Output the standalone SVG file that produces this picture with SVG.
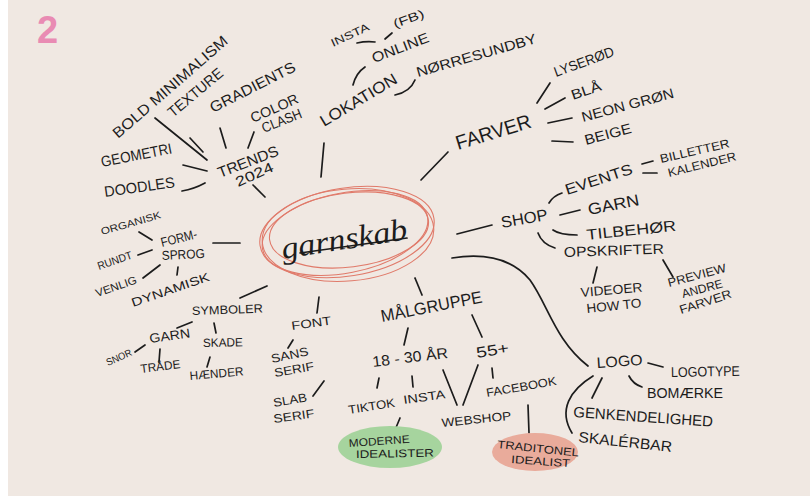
<svg xmlns="http://www.w3.org/2000/svg" width="810" height="496" viewBox="0 0 810 496">
<defs>
<style>
.t{font-family:"Liberation Sans","DejaVu Sans",sans-serif;fill:#1c1c1c;}
.c{fill:none;stroke:#1c1c1c;stroke-width:1.7;stroke-linecap:round;}
.r{fill:none;stroke:#e07a6a;stroke-width:1.1;}
</style>
</defs>
<rect x="0" y="0" width="810" height="496" fill="#ffffff"/>
<rect x="8" y="0" width="802" height="496" fill="#f0e8e2"/>
<text x="37" y="43" font-family="Liberation Sans, sans-serif" font-weight="bold" font-size="38" fill="#e98bb3">2</text>

<g id="connectors">
<path class="c" d="M155,118 L207,160"/>
<path class="c" d="M190,138 L203,152"/>
<path class="c" d="M220,128 L226,148"/>
<path class="c" d="M254,132 L248,148"/>
<path class="c" d="M183,165 L207,171"/>
<path class="c" d="M182,191 Q194,189 205,183"/>
<path class="c" d="M253,185 L265,197"/>
<path class="c" d="M357,43 Q366,41 375,42"/>
<path class="c" d="M385,39 L392,33"/>
<path class="c" d="M353,85 Q356,73 365,67"/>
<path class="c" d="M395,95 Q410,92 415,80"/>
<path class="c" d="M324,143 L321,177"/>
<path class="c" d="M448,152 L421,180"/>
<path class="c" d="M537,103 L550,83"/>
<path class="c" d="M545,109 L565,98"/>
<path class="c" d="M548,123 L572,118"/>
<path class="c" d="M552,141 L573,142"/>
<path class="c" d="M457,234 L492,225"/>
<path class="c" d="M549,203 Q553,196 562,193"/>
<path class="c" d="M560,215 L580,210"/>
<path class="c" d="M553,230 Q560,235 577,235"/>
<path class="c" d="M538,233 Q542,244 555,248"/>
<path class="c" d="M642,164 L653,161"/>
<path class="c" d="M643,173 L657,173"/>
<path class="c" d="M597,267 L593,283"/>
<path class="c" d="M663,260 L673,277"/>
<path class="c" d="M452,258 C490,252 515,262 530,280 C548,305 555,340 588,366"/>
<path class="c" d="M648,363 L663,367"/>
<path class="c" d="M629,376 Q633,384 642,387"/>
<path class="c" d="M602,378 L592,398"/>
<path class="c" d="M593,376 C570,390 558,410 572,433"/>
<path class="c" d="M213,243 L240,243"/>
<path class="c" d="M139,232 L152,240"/>
<path class="c" d="M138,255 L152,250"/>
<path class="c" d="M143,278 L160,265"/>
<path class="c" d="M178,267 L177,275"/>
<path class="c" d="M240,298 L267,286"/>
<path class="c" d="M177,328 L192,322"/>
<path class="c" d="M214,323 L216,333"/>
<path class="c" d="M135,352 L145,345"/>
<path class="c" d="M160,349 L159,362"/>
<path class="c" d="M210,357 L207,367"/>
<path class="c" d="M319,297 L317,313"/>
<path class="c" d="M293,340 L288,348"/>
<path class="c" d="M324,381 L313,396"/>
<path class="c" d="M415,278 L422,295"/>
<path class="c" d="M408,328 L404,345"/>
<path class="c" d="M472,315 L482,337"/>
<path class="c" d="M379,378 L377,388"/>
<path class="c" d="M412,376 L413,387"/>
<path class="c" d="M443,370 L457,405"/>
<path class="c" d="M478,365 L463,405"/>
<path class="c" d="M492,368 L493,378"/>
<path class="c" d="M400,418 L395,430"/>
<path class="c" d="M528,405 L529,433"/>
</g>

<g id="center">
<ellipse class="r" cx="347" cy="232" rx="88" ry="44" transform="rotate(-9 347 232)"/>
<ellipse class="r" cx="345" cy="233" rx="84" ry="40" transform="rotate(-11 345 233)"/>
<ellipse class="r" cx="349" cy="230" rx="80" ry="37" transform="rotate(-7 349 230)"/>
<ellipse class="r" cx="348" cy="235" rx="86" ry="46" transform="rotate(-5 348 235)"/>
<text transform="translate(283,259) rotate(-9)" font-family="Liberation Serif, serif" font-style="italic" font-size="31" fill="#1c1c1c" textLength="127" lengthAdjust="spacingAndGlyphs">garnskab</text>
<path class="c" d="M300,253 L407,238" stroke-width="1.4"/>
</g>

<g id="trends">
<text class="t" font-size="15" transform="translate(118,139) rotate(-41)" textLength="147" lengthAdjust="spacingAndGlyphs">BOLD MINIMALISM</text>
<text class="t" font-size="15" transform="translate(173,118) rotate(-40)" textLength="67" lengthAdjust="spacingAndGlyphs">TEXTURE</text>
<text class="t" font-size="15" transform="translate(213,113) rotate(-27)" textLength="94" lengthAdjust="spacingAndGlyphs">GRADIENTS</text>
<text class="t" font-size="14" transform="translate(253,123) rotate(-24)" textLength="51" lengthAdjust="spacingAndGlyphs">COLOR</text>
<text class="t" font-size="14" transform="translate(264,133) rotate(-22)" textLength="42" lengthAdjust="spacingAndGlyphs">CLASH</text>
<text class="t" font-size="15" transform="translate(102,167) rotate(-11)" textLength="72" lengthAdjust="spacingAndGlyphs">GEOMETRI</text>
<text class="t" font-size="15" transform="translate(105,197) rotate(-8)" textLength="71" lengthAdjust="spacingAndGlyphs">DOODLES</text>
<text class="t" font-size="15" transform="translate(220,178) rotate(-21)" textLength="64" lengthAdjust="spacingAndGlyphs">TRENDS</text>
<text class="t" font-size="14" transform="translate(238,187) rotate(-24)" textLength="40" lengthAdjust="spacingAndGlyphs">2024</text>
</g>

<g id="lokation">
<text class="t" font-size="11" transform="translate(333,47) rotate(-25)" textLength="41" lengthAdjust="spacingAndGlyphs">INSTA</text>
<text class="t" font-size="12" transform="translate(395,28) rotate(-20)" textLength="32" lengthAdjust="spacingAndGlyphs">(FB)</text>
<text class="t" font-size="14" transform="translate(374,63) rotate(-21)" textLength="60" lengthAdjust="spacingAndGlyphs">ONLINE</text>
<text class="t" font-size="16" transform="translate(324,127) rotate(-31)" textLength="87" lengthAdjust="spacingAndGlyphs">LOKATION</text>
<text class="t" font-size="14" transform="translate(418,77) rotate(-16)" textLength="124" lengthAdjust="spacingAndGlyphs">NØRRESUNDBY</text>
</g>

<g id="farver">
<text class="t" font-size="20" transform="translate(458,150) rotate(-17)" textLength="78" lengthAdjust="spacingAndGlyphs">FARVER</text>
<text class="t" font-size="14" transform="translate(556,77) rotate(-20)" textLength="63" lengthAdjust="spacingAndGlyphs">LYSERØD</text>
<text class="t" font-size="14" transform="translate(573,100) rotate(-19)" textLength="31" lengthAdjust="spacingAndGlyphs">BLÅ</text>
<text class="t" font-size="14" transform="translate(583,122) rotate(-15)" textLength="95" lengthAdjust="spacingAndGlyphs">NEON GRØN</text>
<text class="t" font-size="14" transform="translate(586,145) rotate(-15)" textLength="48" lengthAdjust="spacingAndGlyphs">BEIGE</text>
</g>

<g id="shop">
<text class="t" font-size="16" transform="translate(502,228) rotate(-10)" textLength="47" lengthAdjust="spacingAndGlyphs">SHOP</text>
<text class="t" font-size="15" transform="translate(567,195) rotate(-18)" textLength="70" lengthAdjust="spacingAndGlyphs">EVENTS</text>
<text class="t" font-size="12" transform="translate(661,163) rotate(-13)" textLength="71" lengthAdjust="spacingAndGlyphs">BILLETTER</text>
<text class="t" font-size="12" transform="translate(669,177) rotate(-14)" textLength="70" lengthAdjust="spacingAndGlyphs">KALENDER</text>
<text class="t" font-size="16" transform="translate(589,215) rotate(-11)" textLength="52" lengthAdjust="spacingAndGlyphs">GARN</text>
<text class="t" font-size="15" transform="translate(587,240) rotate(-6)" textLength="90" lengthAdjust="spacingAndGlyphs">TILBEHØR</text>
<text class="t" font-size="14" transform="translate(564,257) rotate(-2)" textLength="100" lengthAdjust="spacingAndGlyphs">OPSKRIFTER</text>
<text class="t" font-size="13" transform="translate(581,297) rotate(-5)" textLength="62" lengthAdjust="spacingAndGlyphs">VIDEOER</text>
<text class="t" font-size="13" transform="translate(587,313) rotate(-6)" textLength="55" lengthAdjust="spacingAndGlyphs">HOW TO</text>
<text class="t" font-size="12" transform="translate(669,287) rotate(-15)" textLength="60" lengthAdjust="spacingAndGlyphs">PREVIEW</text>
<text class="t" font-size="12" transform="translate(683,298) rotate(-15)" textLength="42" lengthAdjust="spacingAndGlyphs">ANDRE</text>
<text class="t" font-size="12" transform="translate(681,314) rotate(-18)" textLength="54" lengthAdjust="spacingAndGlyphs">FARVER</text>
</g>

<g id="logo">
<text class="t" font-size="15" transform="translate(597,368) rotate(-4)" textLength="46" lengthAdjust="spacingAndGlyphs">LOGO</text>
<text class="t" font-size="14" transform="translate(671,377) rotate(-1)" textLength="69" lengthAdjust="spacingAndGlyphs">LOGOTYPE</text>
<text class="t" font-size="14" transform="translate(647,398)" textLength="76" lengthAdjust="spacingAndGlyphs">BOMÆRKE</text>
<text class="t" font-size="15" transform="translate(573,417) rotate(4)" textLength="140" lengthAdjust="spacingAndGlyphs">GENKENDELIGHED</text>
<text class="t" font-size="15" transform="translate(578,442) rotate(6)" textLength="94" lengthAdjust="spacingAndGlyphs">SKALÉRBAR</text>
</g>

<g id="formsprog">
<text class="t" font-size="10" transform="translate(102,235) rotate(-16)" textLength="62" lengthAdjust="spacingAndGlyphs">ORGANISK</text>
<text class="t" font-size="13" transform="translate(162,247) rotate(-14)" textLength="37" lengthAdjust="spacingAndGlyphs">FORM-</text>
<text class="t" font-size="13" transform="translate(162,260) rotate(-3)" textLength="43" lengthAdjust="spacingAndGlyphs">SPROG</text>
<text class="t" font-size="11" transform="translate(99,270) rotate(-19)" textLength="36" lengthAdjust="spacingAndGlyphs">RUNDT</text>
<text class="t" font-size="11" transform="translate(97,297) rotate(-19)" textLength="43" lengthAdjust="spacingAndGlyphs">VENLIG</text>
<text class="t" font-size="12" transform="translate(133,307) rotate(-19)" textLength="82" lengthAdjust="spacingAndGlyphs">DYNAMISK</text>
</g>

<g id="symboler">
<text class="t" font-size="12" transform="translate(192,315) rotate(-2)" textLength="71" lengthAdjust="spacingAndGlyphs">SYMBOLER</text>
<text class="t" font-size="13" transform="translate(150,343) rotate(-8)" textLength="41" lengthAdjust="spacingAndGlyphs">GARN</text>
<text class="t" font-size="10" transform="translate(108,366) rotate(-24)" textLength="27" lengthAdjust="spacingAndGlyphs">SNOR</text>
<text class="t" font-size="12" transform="translate(141,373) rotate(-7)" textLength="40" lengthAdjust="spacingAndGlyphs">TRÅDE</text>
<text class="t" font-size="12" transform="translate(203,347) rotate(-1)" textLength="40" lengthAdjust="spacingAndGlyphs">SKADE</text>
<text class="t" font-size="12" transform="translate(190,380) rotate(-5)" textLength="54" lengthAdjust="spacingAndGlyphs">HÆNDER</text>
</g>

<g id="font">
<text class="t" font-size="12" transform="translate(292,330) rotate(-8)" textLength="40" lengthAdjust="spacingAndGlyphs">FONT</text>
<text class="t" font-size="12" transform="translate(272,363) rotate(-12)" textLength="38" lengthAdjust="spacingAndGlyphs">SANS</text>
<text class="t" font-size="12" transform="translate(275,377) rotate(-10)" textLength="40" lengthAdjust="spacingAndGlyphs">SERIF</text>
<text class="t" font-size="12" transform="translate(274,407) rotate(-10)" textLength="34" lengthAdjust="spacingAndGlyphs">SLAB</text>
<text class="t" font-size="12" transform="translate(274,423) rotate(-8)" textLength="41" lengthAdjust="spacingAndGlyphs">SERIF</text>
</g>

<g id="maalgruppe">
<text class="t" font-size="17" transform="translate(382,322) rotate(-11)" textLength="103" lengthAdjust="spacingAndGlyphs">MÅLGRUPPE</text>
<text class="t" font-size="15" transform="translate(373,367) rotate(-7)" textLength="76" lengthAdjust="spacingAndGlyphs">18 - 30 ÅR</text>
<text class="t" font-size="15" transform="translate(477,358) rotate(-9)" textLength="33" lengthAdjust="spacingAndGlyphs">55+</text>
<text class="t" font-size="12" transform="translate(349,414) rotate(-9)" textLength="47" lengthAdjust="spacingAndGlyphs">TIKTOK</text>
<text class="t" font-size="12" transform="translate(404,404) rotate(-8)" textLength="42" lengthAdjust="spacingAndGlyphs">INSTA</text>
<text class="t" font-size="12" transform="translate(487,397) rotate(-10)" textLength="71" lengthAdjust="spacingAndGlyphs">FACEBOOK</text>
<text class="t" font-size="12" transform="translate(442,427) rotate(-6)" textLength="70" lengthAdjust="spacingAndGlyphs">WEBSHOP</text>
</g>

<g id="moderne-idealister">
<ellipse cx="390" cy="447" rx="52" ry="21" fill="#a6d49e"/>
<text class="t" font-size="11" transform="translate(349,447) rotate(-4)" textLength="61" lengthAdjust="spacingAndGlyphs">MODERNE</text>
<text class="t" font-size="11" transform="translate(356,458) rotate(-1)" textLength="78" lengthAdjust="spacingAndGlyphs">IDEALISTER</text>
</g>

<g id="traditonel-idealist">
<ellipse cx="535" cy="452" rx="43" ry="19" fill="#e9ab9b"/>
<text class="t" font-size="11" transform="translate(497,448) rotate(6)" textLength="82" lengthAdjust="spacingAndGlyphs">TRADITONEL</text>
<text class="t" font-size="11" transform="translate(511,463) rotate(4)" textLength="59" lengthAdjust="spacingAndGlyphs">IDEALIST</text>
</g>
</svg>
